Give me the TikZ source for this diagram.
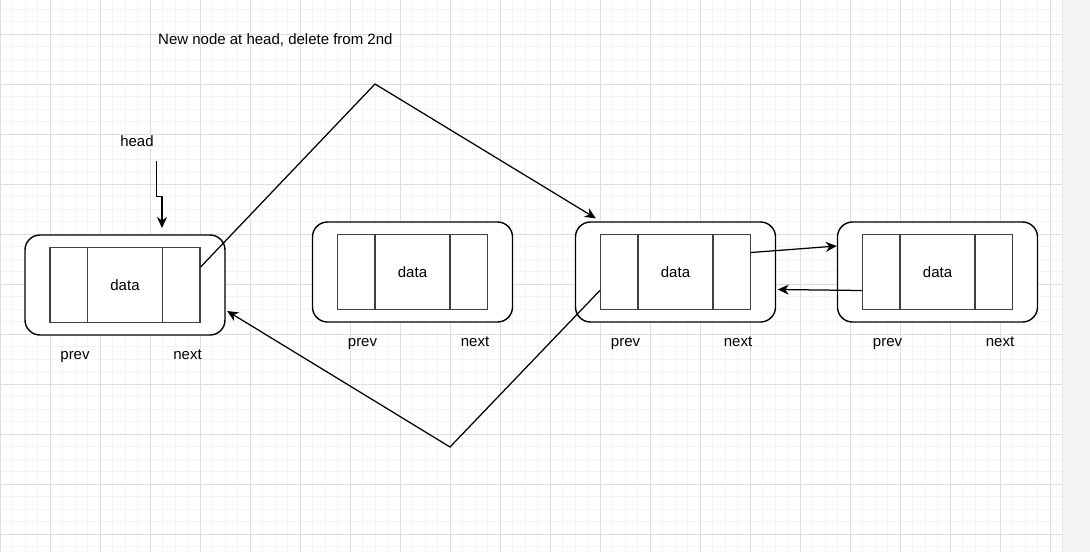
\documentclass[tikz,border=0pt]{standalone}
\usepackage{fontspec}
\setmainfont{Liberation Sans}
\usetikzlibrary{arrows.meta}
\definecolor{minorgrid}{HTML}{F4F4F4}
\definecolor{majorgrid}{HTML}{DDDDDD}
\definecolor{sidepanel}{HTML}{F3F3F3}
\tikzset{
  outerbox/.style={draw=black, line width=1.4pt, rounded corners=15pt, minimum width=200pt, minimum height=100pt, inner sep=0pt, fill=white},
  cellbox/.style={draw=black!75, line width=1.2pt, minimum height=75pt, inner sep=0pt, fill=white, font=\fontsize{15}{18}\selectfont},
  lbl/.style={inner sep=0pt, font=\fontsize{15}{18}\selectfont},
  link/.style={draw=black, line width=1.25pt, -{Stealth[length=11pt,width=10pt,inset=3.5pt]}},
}
\newcommand{\dllnode}[3]{%
  \node[outerbox] (o#1) at (#2,#3) {};
  \node[cellbox, minimum width=37.5pt] (p#1) at (#2-56.25,#3) {};
  \node[cellbox, minimum width=75pt] (d#1) at (#2,#3) {data};
  \node[cellbox, minimum width=37.5pt] (n#1) at (#2+56.25,#3) {};
  \node[lbl, anchor=base] (lp#1) at (#2-50,#3+74) {prev};
  \node[lbl, anchor=base] (ln#1) at (#2+62.5,#3+74) {next};
}
\begin{document}
\begin{tikzpicture}[x=1pt,y=-1pt]
\useasboundingbox (0,0) rectangle (1090,552);
% background and grid
\fill[white] (0,0) rectangle (1062,552);
\foreach \x in {12.5,25,...,1062} \draw[minorgrid, line width=1pt] (\x,0) -- (\x,552);
\foreach \y in {9,21.5,...,552} \draw[minorgrid, line width=1pt] (0,\y) -- (1062,\y);
\foreach \x in {0,50,...,1050} \draw[majorgrid, line width=1pt] (\x,0) -- (\x,552);
\foreach \y in {34,84,...,534} \draw[majorgrid, line width=1pt] (0,\y) -- (1062,\y);
\fill[sidepanel] (1062,0) rectangle (1090,552);
\draw[black!10, line width=0.8pt] (1062,0) -- (1062,552);

% title
\node[lbl, anchor=west] (title) at (158,40) {New node at head, delete from 2nd};

% list nodes
\dllnode{1}{125}{285}
\dllnode{2}{412.5}{272}
\dllnode{3}{675.5}{272}
\dllnode{4}{937.5}{272}

% head pointer
\node[lbl] (head) at (137,141) {head};
\coordinate (hs) at (156.5,161);
\coordinate (he) at (162,228);
\draw[link] (hs) -- (156.5,196.5) -- (162,196.5) -- (he);

% connectors
\coordinate (apex) at (375,84);
\coordinate (bottom) at (450,447);
\draw[link] ([yshift=18pt]n1.east) -- (apex) -- ([xshift=21pt,yshift=3pt]o3.north west);
\draw[link] ([yshift=-18.5pt]p3.west) -- (bottom) -- ([xshift=1.5pt,yshift=-26pt]o1.east);
\draw[link] ([yshift=19.5pt]n3.east) -- ([yshift=26pt]o4.west);
\draw[link] ([yshift=-18.5pt]p4.west) -- ([xshift=1.5pt,yshift=-17.5pt]o3.east);
\end{tikzpicture}
\end{document}
